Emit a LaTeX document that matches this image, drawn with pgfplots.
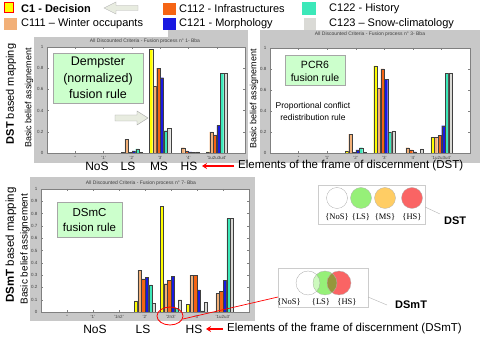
\documentclass[border=0pt]{standalone}
\usepackage{pgfplots}
\pgfplotsset{compat=1.18}
\usepackage{fontspec}
\setmainfont{Liberation Sans}
\newfontfamily\serifb{Liberation Serif}
\usetikzlibrary{arrows.meta}
\newcommand\fs[1]{\fontsize{#1}{#1}\selectfont}

% bar colours (one per criterion)
\definecolor{cY}{RGB}{255,255,0}
\definecolor{cTa}{RGB}{242,176,120}
\definecolor{cOr}{RGB}{245,100,20}
\definecolor{cBl}{RGB}{25,25,225}
\definecolor{cTe}{RGB}{60,232,185}
\definecolor{cGr}{RGB}{218,218,214}
% decoration
\definecolor{frame}{RGB}{200,200,200}
\definecolor{boxg}{RGB}{204,255,204}
\definecolor{cirG}{RGB}{150,240,120}
\definecolor{cirGl}{RGB}{205,250,190}
\definecolor{cirO}{RGB}{255,205,100}
\definecolor{cirR}{RGB}{250,100,100}
\definecolor{cirOl}{RGB}{150,150,60}
\definecolor{arrfill}{RGB}{232,236,224}

\pgfplotsset{
  mfig/.style={
    scale only axis, ybar, bar width=3.2pt, ybar=0.4pt,
    ymin=0, ymax=1, enlargelimits=false,
    axis background/.style={fill=white},
    axis line style={black!50, line width=0.4pt},
    tick style={black!50, line width=0.3pt},
    tick align=inside, major tick length=2pt, tick pos=both,
    tick label style={font=\fs{4.5}, text=black!75},
    /pgf/number format/assume math mode=true,
    every axis plot/.append style={draw=black!75, line width=0.25pt},
  },
}

\begin{document}
\begin{tikzpicture}
\useasboundingbox (0,0) rectangle (480pt,337pt);

% grey figure frames
\begin{scope}[x=1pt,y=-1pt,yshift=337pt]
  \fill[frame] (34,30) rectangle (248,163);
  \fill[frame] (260,30) rectangle (480,163);
  \fill[frame] (30,177) rectangle (255,321);
  \fill[white] (0,0) rectangle (168,37);
\end{scope}

% Dempster
\begin{axis}[mfig, at={(47pt,184pt)}, anchor=south west, width=198pt, height=106pt,
  xmin=0, xmax=7, xtick={1,...,6},
  xticklabels={{''},{'1'},{'2'},{'3'},{'4'},{'1u2u3u4'}},
  ytick={0,0.2,0.4,0.6,0.8,1}]
\addplot[fill=cY]  coordinates {(3,0.005) (4,0.98) (6,0.01)};
\addplot[fill=cTa] coordinates {(3,0.13) (4,0.63) (5,0.05) (6,0.20)};
\addplot[fill=cOr] coordinates {(3,0.005) (4,0.80) (5,0.02) (6,0.17)};
\addplot[fill=cBl] coordinates {(3,0.02) (4,0.71) (5,0.01) (6,0.26)};
\addplot[fill=cTe] coordinates {(3,0.04) (4,0.21) (5,0.005) (6,0.75)};
\addplot[fill=cGr] coordinates {(3,0.005) (4,0.23) (5,0.01) (6,0.75)};
\end{axis}

% PCR6
\begin{axis}[mfig, at={(270pt,184pt)}, anchor=south west, width=200pt, height=105pt,
  xmin=0, xmax=7, xtick={1,...,6},
  xticklabels={{''},{'1'},{'2'},{'3'},{'4'},{'1u2u3u4'}},
  ytick={0,0.2,0.4,0.6,0.8,1}]
\addplot[fill=cY]  coordinates {(3,0.02) (4,0.83) (6,0.15)};
\addplot[fill=cTa] coordinates {(3,0.18) (4,0.62) (5,0.05) (6,0.15)};
\addplot[fill=cOr] coordinates {(3,0.005) (4,0.80) (5,0.03) (6,0.17)};
\addplot[fill=cBl] coordinates {(3,0.03) (4,0.70) (5,0.01) (6,0.26)};
\addplot[fill=cTe] coordinates {(3,0.05) (4,0.20) (6,0.76)};
\addplot[fill=cGr] coordinates {(3,0.005) (4,0.21) (5,0.04) (6,0.76)};
\end{axis}

% DSmC
\begin{axis}[mfig, at={(41pt,25pt)}, anchor=south west, width=208pt, height=123pt,
  xmin=0, xmax=8, xtick={1,...,7},
  xticklabels={{''},{'1'},{'1n2'},{'2'},{'2n3'},{'3'},{'1u2u3'}},
  ytick={0,0.1,0.2,0.3,0.4,0.5,0.6,0.7,0.8,0.9,1}]
\addplot[fill=cY]  coordinates {(4,0.09) (5,0.86) (6,0.06)};
\addplot[fill=cTa] coordinates {(4,0.34) (5,0.23) (6,0.30) (7,0.15)};
\addplot[fill=cOr] coordinates {(4,0.27) (5,0.26) (6,0.30) (7,0.17)};
\addplot[fill=cBl] coordinates {(4,0.28) (5,0.29) (6,0.18) (7,0.26)};
\addplot[fill=cTe] coordinates {(4,0.22) (5,0.03) (6,0.01) (7,0.76)};
\addplot[fill=cGr] coordinates {(4,0.07) (5,0.10) (6,0.08) (7,0.76)};
\end{axis}

\begin{scope}[x=1pt,y=-1pt,yshift=337pt, every node/.style={inner sep=0pt}]
  % legend
  \filldraw[fill=cY, draw=red, line width=1pt] (4,3) rectangle (13,13);
  \node[anchor=west, font=\fs{11}\bfseries] at (21,8.5) {C1 - Decision};
  \filldraw[fill=arrfill, draw=gray!60, line width=0.4pt]
    (104,8) -- (116,2) -- (116,5.5) -- (138,5.5) -- (138,10.5) -- (116,10.5) -- (116,14) -- cycle;
  \fill[cOr] (163,3) rectangle (176,15);
  \node[anchor=west, font=\fs{11}] at (179,9) {C112 - Infrastructures};
  \fill[cTe] (302,2) rectangle (316,15);
  \node[anchor=west, font=\fs{11}] at (329,8.5) {C122 - History};
  \fill[cTa] (4,18) rectangle (17,30);
  \node[anchor=west, font=\fs{11}] at (21,23.5) {C111 – Winter occupants};
  \fill[cBl] (163,18) rectangle (176,30);
  \node[anchor=west, font=\fs{11}] at (179,23.5) {C121 - Morphology};
  \fill[cGr] (304,18) rectangle (316,30);
  \node[anchor=west, font=\fs{11}] at (329,23.5) {C123 – Snow-climatology};

  % titles
  \node[font=\fs{5}, text=black!75] at (145,41) {All Discounted Criteria - Fusion process n° 1- Bba};
  \node[font=\fs{5}, text=black!75] at (370,34) {All Discounted Criteria - Fusion process n° 3- Bba};
  \node[font=\fs{5}, text=black!75] at (141,183) {All Discounted Criteria - Fusion process n° 7- Bba};

  % y labels
  \node[rotate=90, font=\fs{9}] at (29,98) {Basic belief assignement};
  \node[rotate=90, font=\fs{9}] at (254,99) {Basic belief assignement};
  \node[rotate=90, font=\fs{10}] at (25,249) {Basic belief assignement};
  \node[rotate=90, font=\fs{11}] at (11,94) {\textbf{DST} based mapping};
  \node[rotate=90, font=\fs{11.5}] at (11,245) {\textbf{DSmT} based mapping};

  % fusion rule boxes
  \filldraw[fill=boxg, draw=gray!70, line width=0.4pt] (53,53) rectangle (143,103);
  \node[font=\fs{12.5}] at (98,63) {Dempster};
  \node[font=\fs{12.5}] at (98,79) {(normalized)};
  \node[font=\fs{12.5}] at (98,94) {fusion rule};
  \filldraw[fill=arrfill, draw=gray!70, line width=0.4pt]
    (148,118) -- (137,111) -- (137,115) -- (115,115) -- (115,121) -- (137,121) -- (137,125) -- cycle;

  \filldraw[fill=boxg, draw=gray!70, line width=0.4pt] (285,55) rectangle (345,85);
  \node[font=\fs{10.5}] at (315,65) {PCR6};
  \node[font=\fs{10.5}] at (315,78) {fusion rule};
  \node[font=\fs{8.5}] at (313,106) {Proportional conflict};
  \node[font=\fs{8.5}] at (313,117) {redistribution rule};

  \filldraw[fill=boxg, draw=gray!70, line width=0.4pt] (57,202) rectangle (122,237);
  \node[font=\fs{11.5}] at (89.5,213) {DSmC};
  \node[font=\fs{11.5}] at (89.5,227) {fusion rule};

  % frame of discernment labels
  \node[font=\fs{12}] at (97,166) {NoS};
  \node[font=\fs{12}] at (128,166) {LS};
  \node[font=\fs{12}] at (159,166) {MS};
  \node[font=\fs{12}] at (189,166) {HS};
  \draw[red, line width=1.3pt, -{Stealth[length=5pt,width=6pt]}] (234,166) -- (202,166);
  \node[anchor=west, font=\fs{11.5}] at (238,166) {Elements of the frame of discernment (DST)};

  \node[font=\fs{12}] at (95,329) {NoS};
  \node[font=\fs{12}] at (143,329) {LS};
  \node[font=\fs{12}] at (194,329) {HS};
  \draw[red, line width=1.3pt, -{Stealth[length=5pt,width=6pt]}] (223,329) -- (206,329);
  \node[anchor=west, font=\fs{11.5}] at (227,329) {Elements of the frame of discernment (DSmT)};

  % DST diagram
  \draw[gray!40, line width=0.4pt] (318,185) rectangle (425,224);
  \draw[gray!70, line width=0.3pt] (337,198) circle (10.5);
  \filldraw[fill=cirG, draw=gray!60, line width=0.3pt] (361,198) circle (10.5);
  \filldraw[fill=cirO, draw=gray!60, line width=0.3pt] (385,198) circle (10.5);
  \filldraw[fill=cirR, draw=gray!60, line width=0.3pt] (412,198) circle (10.5);
  \node[font=\serifb\fs{8.5}] at (337,217) {\{NoS\}};
  \node[font=\serifb\fs{8.5}] at (361,217) {\{LS\}};
  \node[font=\serifb\fs{8.5}] at (385,217) {\{MS\}};
  \node[font=\serifb\fs{8.5}] at (412,217) {\{HS\}};
  \draw[gray!60, line width=0.4pt] (425,207) -- (440,214);
  \node[anchor=west, font=\fs{11}\bfseries] at (444,221) {DST};

  % DSmT diagram
  \draw[gray!40, line width=0.4pt] (278,268) rectangle (368,307);
  \fill[cirG] (325,283) circle (12);
  \begin{scope}
    \clip (308,283) circle (12);
    \fill[cirGl] (325,283) circle (12);
  \end{scope}
  \fill[cirR] (339,283) circle (12);
  \begin{scope}
    \clip (325,283) circle (12);
    \fill[cirOl] (339,283) circle (12);
  \end{scope}
  \draw[gray!70, line width=0.3pt] (308,283) circle (12);
  \draw[gray!60, line width=0.3pt] (325,283) circle (12);
  \draw[gray!60, line width=0.3pt] (339,283) circle (12);
  \node[font=\serifb\fs{8.5}] at (289,302) {\{NoS\}};
  \node[font=\serifb\fs{8.5}] at (321,302) {\{LS\}};
  \node[font=\serifb\fs{8.5}] at (347,302) {\{HS\}};
  \draw[gray!60, line width=0.4pt] (368,297) -- (387,305);
  \node[anchor=west, font=\fs{11}\bfseries] at (395,305) {DSmT};

  % highlight of the intersection
  \draw[red, line width=0.8pt] (170,316) ellipse [x radius=13, y radius=9];
  \draw[red, line width=0.7pt] (183,319) -- (278,297);
\end{scope}
\end{tikzpicture}
\end{document}
